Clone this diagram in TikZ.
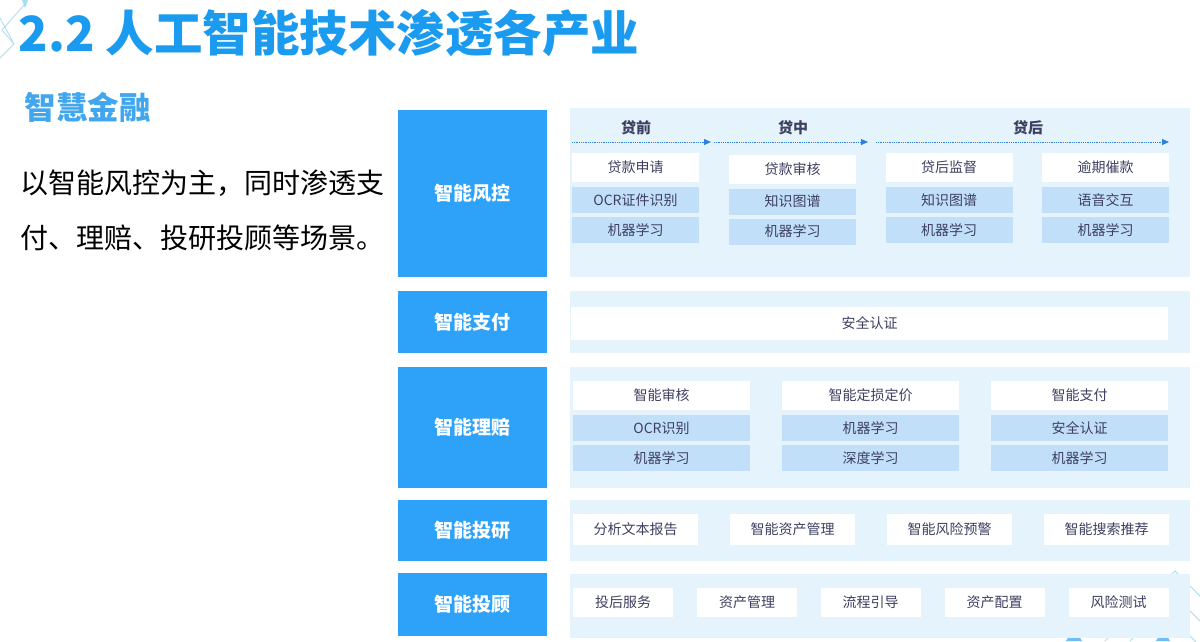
\documentclass[tikz,border=0pt]{standalone}
\usepackage{fontspec}
\setmainfont{Noto Sans CJK SC}
\usepackage{tikz}
\usetikzlibrary{arrows.meta}
\definecolor{titleblue}{HTML}{1A9BF0}
\definecolor{subblue}{HTML}{42A6EE}
\definecolor{barblue}{HTML}{2EA2F8}
\definecolor{panelblue}{HTML}{E5F3FC}
\definecolor{techblue}{HTML}{C2DFFA}
\definecolor{cellink}{HTML}{3D4060}
\definecolor{arrowblue}{HTML}{2F7FE0}
\definecolor{decoline}{HTML}{A8DCEF}

\begin{document}
\begin{tikzpicture}[
        x=1pt, y=-1pt,
        rowhead/.style={rectangle, fill=barblue, text=white, minimum width=149pt, font=\fontsize{19}{21}\selectfont\bfseries},
        panel/.style={rectangle, fill=panelblue, minimum width=620pt},
        stage/.style={text=cellink, font=\fontsize{15}{17}\selectfont\bfseries},
        cell/.style={rectangle, fill=white, text=cellink, minimum height=29pt, font=\fontsize{14}{16}\selectfont},
        tech/.style={rectangle, fill=techblue, text=cellink, minimum height=26pt, font=\fontsize{14}{16}\selectfont},
        flow/.style={arrowblue, densely dotted, line width=0.8pt, -{Triangle[length=7pt, width=6pt]}}
    ]
    \useasboundingbox (0,0) rectangle (1200,641);
    \fill[white] (0,0) rectangle (1200,641);

    % Corner decoration
    \draw[decoline, line width=0.8pt] (25,4) -- (2,30) -- (14,44) -- (0,58);
    \draw[decoline, line width=0.8pt] (0,18) -- (14,44);
    \fill[decoline] (22,0) -- (28,0) -- (25,8) -- cycle;
    \draw[decoline, line width=1pt] (1105,641) -- (1150,596) -- (1200,646);
    \draw[decoline, line width=1pt] (1130,641) -- (1175,596) -- (1200,621);
    \draw[decoline, line width=1pt] (1150,596) -- (1175,571) -- (1200,596);
    \fill[barblue!70] (1066,641) -- (1074,628) -- (1082,641) -- cycle;
    \fill[barblue!70] (1156,641) -- (1163,629) -- (1170,641) -- cycle;

    % Title
    \node[anchor=west, text=titleblue, font=\fontsize{48.5}{52}\selectfont\bfseries] at (15,33) (title) {2.2 人工智能技术渗透各产业};

    % Left text
    \node[anchor=west, text=subblue, font=\fontsize{31.5}{34}\selectfont\bfseries] at (21,107) (sector) {智慧金融};
    \node[anchor=west, align=left, font=\fontsize{28}{55}\selectfont] at (17,210) (intro) {以智能风控为主，同时渗透支\\付、理赔、投研投顾等场景。};

    % Panels
    \node[panel, minimum height=169pt] at (880,192.5) (p1) {};
    \node[panel, minimum height=62pt] at (880,322) (p2) {};
    \node[panel, minimum height=121pt] at (880,427.5) (p3) {};
    \node[panel, minimum height=61pt] at (880,530.5) (p4) {};
    \node[panel, minimum height=64pt] at (880,606) (p5) {};

    % Row heads
    \node[rowhead, minimum height=167pt] at (472.5,193.5) (risk) {智能风控};
    \node[rowhead, minimum height=62pt] at (472.5,322) (pay) {智能支付};
    \node[rowhead, minimum height=121pt] at (472.5,427.5) (claim) {智能理赔};
    \node[rowhead, minimum height=61pt] at (472.5,530.5) (research) {智能投研};
    \node[rowhead, minimum height=63pt] at (472.5,604.5) (advisor) {智能投顾};

    % Loan stages
    \node[stage] at (636,128) (before) {贷前};
    \node[stage] at (793,128) (during) {贷中};
    \node[stage] at (1028,128) (after) {贷后};
    \coordinate (f0) at (572,142);
    \coordinate (f1) at (711,142);
    \coordinate (f2) at (714,142);
    \coordinate (f3) at (868,142);
    \coordinate (f4) at (876,142);
    \coordinate (f5) at (1169,142);
    \draw[flow] (f0) -- (f1);
    \draw[flow] (f2) -- (f3);
    \draw[flow] (f4) -- (f5);

    % Risk control cells
    \node[cell, minimum width=127pt] at (635.5,167.5) (apply) {贷款申请};
    \node[tech, minimum width=127pt] at (635.5,200) (ocr) {OCR证件识别};
    \node[tech, minimum width=127pt] at (635.5,230) (ml1) {机器学习};
    \node[cell, minimum width=127pt] at (792.5,169) (audit) {贷款审核};
    \node[tech, minimum width=127pt] at (792.5,201.5) (kg1) {知识图谱};
    \node[tech, minimum width=127pt] at (792.5,231.5) (ml2) {机器学习};
    \node[cell, minimum width=127pt] at (949,167.5) (monitor) {贷后监督};
    \node[tech, minimum width=127pt] at (949,200) (kg2) {知识图谱};
    \node[tech, minimum width=127pt] at (949,230) (ml3) {机器学习};
    \node[cell, minimum width=127pt] at (1105.5,167.5) (collect) {逾期催款};
    \node[tech, minimum width=127pt] at (1105.5,200) (voice) {语音交互};
    \node[tech, minimum width=127pt] at (1105.5,230) (ml4) {机器学习};

    % Payment cell
    \node[cell, minimum width=597pt, minimum height=33pt] at (869.5,323.5) (auth) {安全认证};

    % Claim cells
    \node[cell, minimum width=177pt] at (661.5,395) (review) {智能审核};
    \node[tech, minimum width=177pt] at (661.5,428) (ocr2) {OCR识别};
    \node[tech, minimum width=177pt] at (661.5,458) (ml5) {机器学习};
    \node[cell, minimum width=177pt] at (870.5,395) (price) {智能定损定价};
    \node[tech, minimum width=177pt] at (870.5,428) (ml6) {机器学习};
    \node[tech, minimum width=177pt] at (870.5,458) (dl) {深度学习};
    \node[cell, minimum width=177pt] at (1079.5,395) (pay2) {智能支付};
    \node[tech, minimum width=177pt] at (1079.5,428) (auth2) {安全认证};
    \node[tech, minimum width=177pt] at (1079.5,458) (ml7) {机器学习};

    % Research cells
    \node[cell, minimum width=125pt, minimum height=31pt] at (635.5,529.5) (report) {分析文本报告};
    \node[cell, minimum width=125pt, minimum height=31pt] at (792.5,529.5) (asset) {智能资产管理};
    \node[cell, minimum width=125pt, minimum height=31pt] at (949.5,529.5) (alert) {智能风险预警};
    \node[cell, minimum width=125pt, minimum height=31pt] at (1106.5,529.5) (search) {智能搜索推荐};

    % Advisor cells
    \node[cell, minimum width=100pt] at (623,602.5) (service) {投后服务};
    \node[cell, minimum width=100pt] at (747,602.5) (manage) {资产管理};
    \node[cell, minimum width=100pt] at (870.5,602.5) (guide) {流程引导};
    \node[cell, minimum width=100pt] at (994.5,602.5) (alloc) {资产配置};
    \node[cell, minimum width=100pt] at (1118.5,602.5) (test) {风险测试};

\end{tikzpicture}
\end{document}
